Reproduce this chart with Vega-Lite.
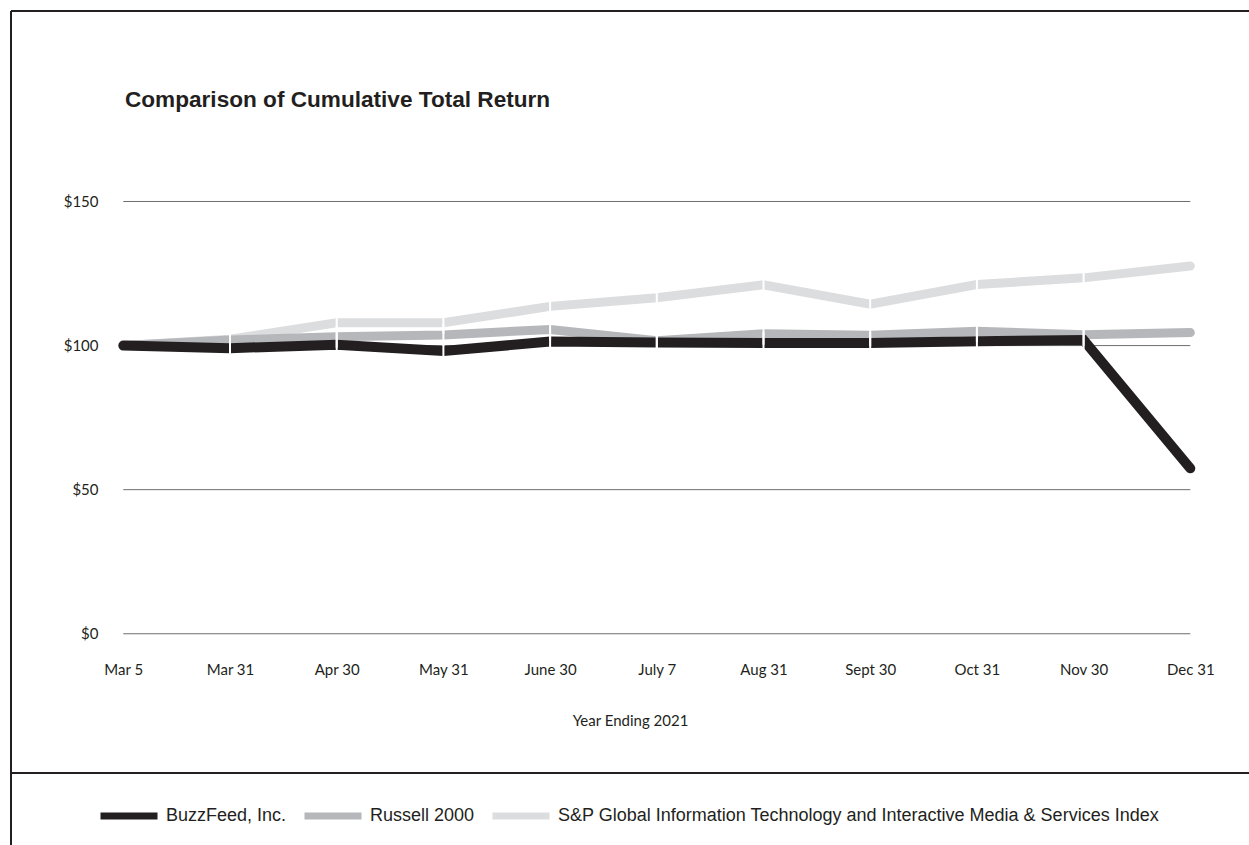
{
  "$schema": "https://vega.github.io/schema/vega-lite/v6.json",
  "width": 1238,
  "height": 834,
  "autosize": "none",
  "padding": {"left": 11, "top": 11, "right": 0, "bottom": 0},
  "background": "white",
  "title": {
    "text": "Comparison of Cumulative Total Return",
    "anchor": "start",
    "frame": "group",
    "dx": 114,
    "offset": -101,
    "font": "Liberation Sans",
    "fontSize": 22.6,
    "fontWeight": "bold",
    "color": "#231f20"
  },
  "data": {
    "values": [
      {"date": "Mar 5", "series": "BuzzFeed, Inc.", "value": 100},
      {"date": "Mar 31", "series": "BuzzFeed, Inc.", "value": 99.1},
      {"date": "Apr 30", "series": "BuzzFeed, Inc.", "value": 100.3},
      {"date": "May 31", "series": "BuzzFeed, Inc.", "value": 98.1},
      {"date": "June 30", "series": "BuzzFeed, Inc.", "value": 101.4},
      {"date": "July 7", "series": "BuzzFeed, Inc.", "value": 101.1},
      {"date": "Aug 31", "series": "BuzzFeed, Inc.", "value": 100.9},
      {"date": "Sept 30", "series": "BuzzFeed, Inc.", "value": 100.9},
      {"date": "Oct 31", "series": "BuzzFeed, Inc.", "value": 101.5},
      {"date": "Nov 30", "series": "BuzzFeed, Inc.", "value": 101.9},
      {"date": "Dec 31", "series": "BuzzFeed, Inc.", "value": 57.4},
      {"date": "Mar 5", "series": "Russell 2000", "value": 100},
      {"date": "Mar 31", "series": "Russell 2000", "value": 101.9},
      {"date": "Apr 30", "series": "Russell 2000", "value": 103.1},
      {"date": "May 31", "series": "Russell 2000", "value": 103.7},
      {"date": "June 30", "series": "Russell 2000", "value": 105.6},
      {"date": "July 7", "series": "Russell 2000", "value": 101.7},
      {"date": "Aug 31", "series": "Russell 2000", "value": 104.1},
      {"date": "Sept 30", "series": "Russell 2000", "value": 103.6},
      {"date": "Oct 31", "series": "Russell 2000", "value": 105.0},
      {"date": "Nov 30", "series": "Russell 2000", "value": 103.8},
      {"date": "Dec 31", "series": "Russell 2000", "value": 104.5},
      {"date": "Mar 5", "series": "S&P Global Information Technology and Interactive Media & Services Index", "value": 100},
      {"date": "Mar 31", "series": "S&P Global Information Technology and Interactive Media & Services Index", "value": 102.2},
      {"date": "Apr 30", "series": "S&P Global Information Technology and Interactive Media & Services Index", "value": 107.9},
      {"date": "May 31", "series": "S&P Global Information Technology and Interactive Media & Services Index", "value": 107.9},
      {"date": "June 30", "series": "S&P Global Information Technology and Interactive Media & Services Index", "value": 113.6},
      {"date": "July 7", "series": "S&P Global Information Technology and Interactive Media & Services Index", "value": 116.6},
      {"date": "Aug 31", "series": "S&P Global Information Technology and Interactive Media & Services Index", "value": 121.1},
      {"date": "Sept 30", "series": "S&P Global Information Technology and Interactive Media & Services Index", "value": 114.4},
      {"date": "Oct 31", "series": "S&P Global Information Technology and Interactive Media & Services Index", "value": 121.2},
      {"date": "Nov 30", "series": "S&P Global Information Technology and Interactive Media & Services Index", "value": 123.5},
      {"date": "Dec 31", "series": "S&P Global Information Technology and Interactive Media & Services Index", "value": 127.6}
    ]
  },
  "layer": [
    {
      "data": {"values": [{"line": "divider"}]},
      "mark": {"type": "rule", "color": "#231f20", "strokeWidth": 2},
      "encoding": {
        "y": {"datum": -48.3, "type": "quantitative", "title": null}
      }
    },
    {
      "data": {"values": [{"v": 0}, {"v": 50}, {"v": 100}, {"v": 150}]},
      "mark": {"type": "rule", "color": "#6d6e71", "strokeWidth": 1},
      "encoding": {
        "x": {"datum": "Mar 5", "type": "ordinal", "title": "Year Ending 2021"},
        "x2": {"datum": "Dec 31"},
        "y": {"field": "v", "type": "quantitative", "title": null}
      }
    },
    {
      "transform": [{"filter": "datum.series === 'S&P Global Information Technology and Interactive Media & Services Index'"}],
      "mark": {"type": "line", "strokeWidth": 9, "strokeCap": "round"},
      "encoding": {
        "x": {"field": "date", "type": "ordinal", "title": "Year Ending 2021"},
        "y": {"field": "value", "type": "quantitative", "title": null},
        "color": {"field": "series", "type": "nominal"}
      }
    },
    {
      "transform": [{"filter": "datum.series === 'Russell 2000'"}],
      "mark": {"type": "line", "strokeWidth": 9, "strokeCap": "round"},
      "encoding": {
        "x": {"field": "date", "type": "ordinal", "title": "Year Ending 2021"},
        "y": {"field": "value", "type": "quantitative", "title": null},
        "color": {"field": "series", "type": "nominal"}
      }
    },
    {
      "transform": [{"filter": "datum.series === 'BuzzFeed, Inc.'"}],
      "mark": {"type": "line", "strokeWidth": 10, "strokeCap": "round"},
      "encoding": {
        "x": {"field": "date", "type": "ordinal", "title": "Year Ending 2021"},
        "y": {"field": "value", "type": "quantitative", "title": null},
        "color": {"field": "series", "type": "nominal"}
      }
    },
    {
      "transform": [{"filter": "datum.date !== 'Mar 5' && datum.date !== 'Dec 31'"}],
      "mark": {"type": "tick", "orient": "vertical", "color": "white", "thickness": 2, "size": 22, "opacity": 1},
      "encoding": {
        "x": {"field": "date", "type": "ordinal", "title": "Year Ending 2021"},
        "y": {"field": "value", "type": "quantitative", "title": null}
      }
    }
  ],
  "resolve": {"scale": {"x": "shared", "y": "shared", "color": "shared"}},
  "encoding": {
    "x": {
      "type": "ordinal",
      "scale": {
        "type": "point",
        "domain": ["Mar 5", "Mar 31", "Apr 30", "May 31", "June 30", "July 7", "Aug 31", "Sept 30", "Oct 31", "Nov 30", "Dec 31"],
        "padding": 0.8013,
        "align": 0.6567
      },
      "axis": {
        "orient": "bottom",
        "offset": -211,
        "domain": false,
        "ticks": false,
        "tickSize": 0,
        "grid": false,
        "labelPadding": 28,
        "labelAngle": 0,
        "titlePadding": 36
      }
    },
    "y": {
      "type": "quantitative",
      "scale": {"domain": [-73.3, 216.1], "nice": false, "zero": false},
      "axis": {
        "orient": "left",
        "offset": -87,
        "values": [0, 50, 100, 150],
        "labelExpr": "'$' + datum.value",
        "domain": false,
        "ticks": false,
        "tickSize": 0,
        "grid": false,
        "labelPadding": 0
      }
    },
    "color": {
      "type": "nominal",
      "scale": {
        "domain": ["BuzzFeed, Inc.", "Russell 2000", "S&P Global Information Technology and Interactive Media & Services Index"],
        "range": ["#231f20", "#b6b7ba", "#dcdddf"]
      },
      "legend": {
        "orient": "none",
        "legendX": 86,
        "legendY": 773,
        "direction": "horizontal",
        "title": null,
        "symbolType": "stroke",
        "symbolStrokeWidth": 7,
        "symbolSize": 3249,
        "labelFont": "Liberation Sans",
        "labelFontSize": 18,
        "labelColor": "#231f20",
        "labelOffset": 5,
        "columnPadding": 3,
        "labelLimit": 800
      }
    }
  },
  "config": {
    "view": {"stroke": "#231f20", "strokeWidth": 2, "strokeDash": [1238, 2072, 834, 0]},
    "axis": {
      "labelFont": "Lato",
      "labelFontSize": 15,
      "labelColor": "#231f20",
      "titleFont": "Lato",
      "titleFontSize": 15,
      "titleFontWeight": "normal",
      "titleColor": "#231f20"
    }
  }
}
